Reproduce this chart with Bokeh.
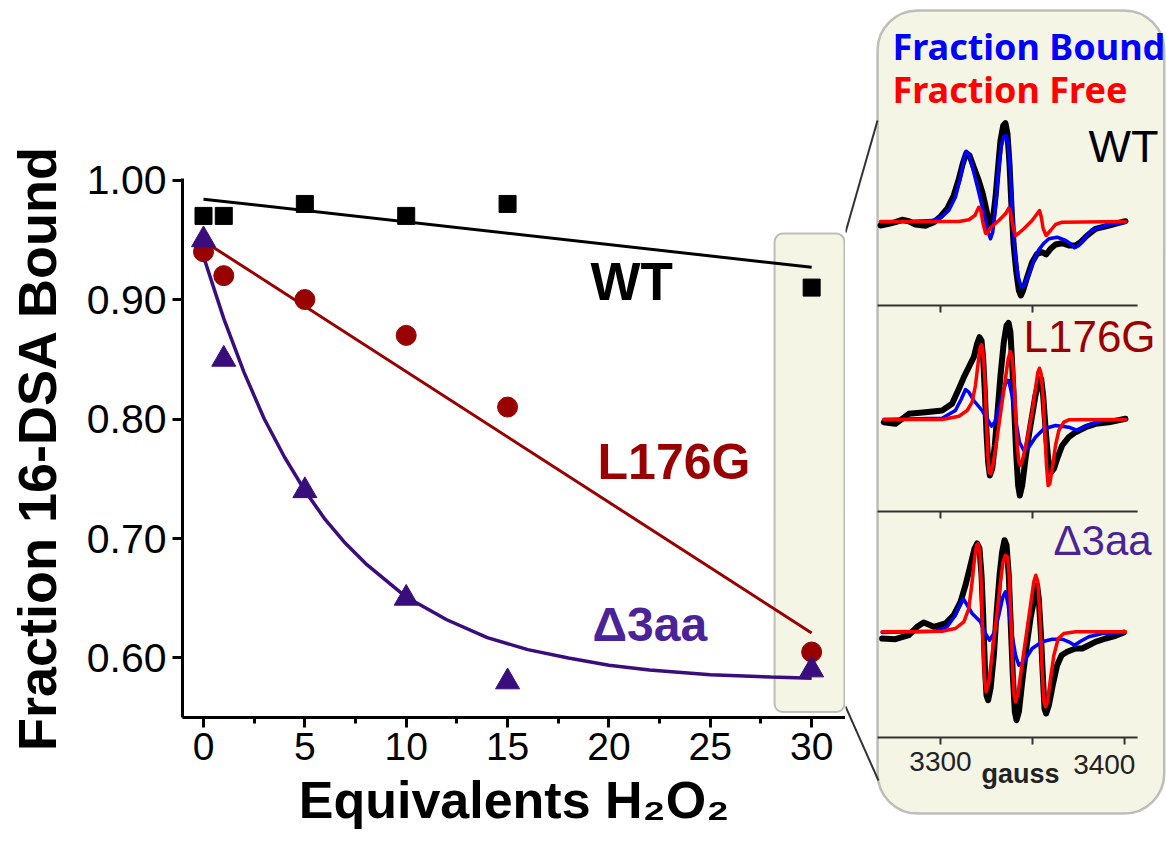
from bokeh.plotting import figure
from bokeh.models import Range1d, FixedTicker, NumeralTickFormatter, BoxAnnotation, Label
from bokeh.layouts import row
from bokeh.embed import file_html
from bokeh.resources import INLINE

# ---------------- main plot data ----------------
equiv = [0, 1, 5, 10, 15, 30]
wt_bound = [0.97, 0.97, 0.98, 0.97, 0.98, 0.91]
l176g_bound = [0.94, 0.92, 0.90, 0.87, 0.81, 0.605]
d3aa_bound = [0.95, 0.85, 0.74, 0.65, 0.58, 0.59]

wt_fit_x = [0, 30]
wt_fit_y = [0.984, 0.927]
l176g_fit_x = [0, 30]
l176g_fit_y = [0.949, 0.621]
d3aa_fit_x = [0, 1, 2, 3, 4, 5, 6, 7, 8, 10, 12, 14, 16, 18, 20, 22, 25, 28, 30]
d3aa_fit_y = [0.936, 0.884, 0.839, 0.800, 0.768, 0.740, 0.716, 0.696, 0.679, 0.651,
              0.632, 0.617, 0.607, 0.600, 0.594, 0.590, 0.586, 0.584, 0.583]

x_ticks = [0, 5, 10, 15, 20, 25, 30]
x_minor = [2.5, 7.5, 12.5, 17.5, 22.5, 27.5]
y_ticks = [0.6, 0.7, 0.8, 0.9, 1.0]

# ---------------- inset EPR spectra (gauss, intensity) ----------------
wt_black_g = [3267.4, 3271.9, 3275.5, 3279.2, 3282.8, 3286.4, 3291.8, 3296.4, 3300.0, 3303.6, 3307.2,
              3310.0, 3312.1, 3314.0, 3315.8, 3318.1, 3320.8, 3323.0, 3325.0, 3326.8, 3328.4, 3329.9,
              3331.3, 3332.6, 3334.1, 3335.3, 3336.4, 3337.5, 3338.6, 3339.7, 3341.1, 3342.6, 3343.7,
              3344.9, 3347.1, 3349.8, 3352.5, 3355.2, 3357.4, 3359.8, 3362.5, 3366.1, 3369.7, 3373.4,
              3376.1, 3379.7, 3384.2, 3391.5, 3400.5]
wt_black_i = [-4, -2.3, -0.7, 1.7, 0.3, -3, -4.3, -0.7, 5, 12.7, 26, 42.7, 57.7, 68.3, 66, 54.3, 41,
              27.7, 11, -4, 1, 24.3, 54.3, 81, 96, 98.3, 87.7, 57.7, 14.3, -22.3, -49, -69, -74, -69,
              -55.7, -40.7, -32.3, -30.7, -33, -27.3, -23, -21.7, -24, -24, -20.7, -14, -7.3, -4, 0.3]
wt_blue_g = [3267.4, 3282.8, 3295.5, 3300.9, 3304.5, 3308.1, 3310.9, 3312.7, 3314.0, 3315.4, 3317.6,
             3319.9, 3322.3, 3324.5, 3325.9, 3327.2, 3328.4, 3329.9, 3331.3, 3333.0, 3334.4, 3335.7,
             3336.8, 3337.9, 3338.9, 3340.4, 3342.2, 3344.0, 3345.5, 3348.0, 3350.7, 3353.4, 3356.2,
             3358.9, 3363.4, 3368.0, 3370.6, 3372.8, 3375.2, 3377.9, 3382.4, 3391.5, 3400.5]
wt_blue_i = [-0.7, 0, 1, 5, 11, 24.3, 44.3, 62.7, 70.3, 67.7, 52.7, 36, 17.7, 1, -10.7, -17.3, -10.7,
             14.3, 47.7, 74.3, 85, 86, 77.7, 51, 11, -29, -55.7, -65.7, -64, -52.3, -39, -28.3, -21.7,
             -17.3, -15.7, -19, -22.3, -26.3, -24, -17.3, -8.3, -3.3, -0.7]
wt_red_g = [3267.4, 3310.0, 3315.4, 3318.7, 3320.8, 3321.9, 3323.0, 3324.5, 3325.5, 3327.2, 3331.7,
            3335.3, 3337.1, 3338.0, 3339.3, 3340.8, 3342.2, 3345.3, 3349.8, 3352.5, 3353.8, 3354.7,
            3355.8, 3357.4, 3359.8, 3362.5, 3366.1, 3400.5]
wt_red_i = [0, 0, 1.7, 6, 14.3, 11, -0.7, -11.7, -11.7, -6.3, 1, 7.7, 13.3, 9.3, -4, -14, -12.3, -7.3,
            1, 7.7, 11, 5, -7.3, -14, -9, -3, -0.7, 0]

l176g_black_g = [3269.2, 3275.5, 3282.8, 3291.8, 3300.9, 3306.3, 3310.0, 3312.7, 3315.4, 3318.1, 3319.9,
                 3321.2, 3322.3, 3323.2, 3324.1, 3325.0, 3325.9, 3326.8, 3328.1, 3329.5, 3331.0, 3332.6,
                 3334.4, 3335.9, 3337.0, 3338.0, 3338.9, 3340.0, 3341.1, 3342.2, 3343.1, 3344.4, 3346.2,
                 3348.0, 3349.8, 3351.6, 3353.4, 3354.7, 3355.8, 3357.1, 3358.5, 3360.0, 3361.6, 3363.4,
                 3366.1, 3369.7, 3373.4, 3378.8, 3384.2, 3391.5, 3400.5]
l176g_black_i = [-2.7, -4.3, 5.7, 7.3, 9, 15.7, 30.7, 42.3, 52.3, 62.3, 75.7, 82.3, 79, 60.7, 27.3,
                 -12.7, -42.7, -56, -49.3, -26, 7.3, 44, 77.3, 94, 96.7, 87.3, 57.3, 14, -32.7, -66,
                 -76, -66, -39.3, -16, 4, 24, 39, 40.7, 24, -9.3, -39.3, -52.7, -49.3, -39.3, -26,
                 -17.7, -12.7, -7.7, -4.3, -2.7, 0.7]
l176g_blue_g = [3269.2, 3300.9, 3308.1, 3311.4, 3313.6, 3315.4, 3318.1, 3322.6, 3325.4, 3327.7, 3329.5,
                3331.7, 3333.9, 3335.9, 3337.1, 3338.9, 3340.8, 3342.9, 3345.3, 3348.0, 3351.6, 3356.2,
                3362.5, 3369.7, 3374.3, 3378.8, 3387.9, 3400.5]
l176g_blue_i = [0, 1.3, 9, 20.7, 30, 27.3, 19, 9, 0.7, -6.7, -2.7, 10.7, 27.3, 39, 39, 24, 0.7, -22.7,
                -31, -27.7, -17.7, -9.3, -6, -7.7, -11, -6.7, -1, 0]
l176g_red_g = [3269.2, 3300.9, 3310.0, 3314.5, 3317.2, 3319.0, 3320.5, 3321.6, 3322.3, 3323.0, 3324.1,
               3325.0, 3325.7, 3326.4, 3327.3, 3328.4, 3329.9, 3331.7, 3333.5, 3335.3, 3336.8, 3338.0,
               3338.9, 3339.9, 3340.8, 3341.7, 3342.6, 3343.5, 3344.7, 3347.1, 3349.8, 3351.6, 3352.9,
               3353.8, 3354.7, 3355.8, 3356.7, 3357.6, 3358.5, 3359.4, 3360.7, 3362.5, 3364.3, 3367.0,
               3369.7, 3400.5]
l176g_red_i = [0, 0, 3.3, 9, 17.3, 34, 57.3, 72.3, 74.7, 69, 40.7, -2.7, -36, -52.7, -54.3, -46, -29.3,
               -6, 17.3, 40.7, 60.7, 68, 62.3, 40.7, 7.3, -26, -42.7, -46, -39.3, -19.3, 7.3, 30.7,
               47.3, 51.3, 45.7, 20.7, -12.7, -46, -66, -64.3, -49.3, -26, -11, -2.7, -0.3, 0]

d3aa_black_g = [3268.3, 3275.5, 3282.8, 3287.3, 3290.9, 3296.4, 3302.7, 3307.2, 3310.9, 3313.6, 3316.3,
                3318.5, 3319.9, 3321.2, 3322.3, 3323.2, 3324.1, 3325.0, 3325.9, 3327.2, 3329.0, 3330.4,
                3332.1, 3333.5, 3334.8, 3335.9, 3337.1, 3338.2, 3339.3, 3340.4, 3341.3, 3342.6, 3344.4,
                3346.6, 3348.9, 3351.3, 3352.5, 3353.4, 3354.5, 3355.6, 3356.5, 3357.4, 3358.9, 3361.0,
                3363.4, 3365.8, 3368.8, 3373.4, 3377.0, 3380.6, 3384.2, 3389.7, 3395.1, 3399.6]
d3aa_black_i = [-6, -6.7, -2.7, 5.7, 10, 5.7, 9, 17.3, 30.7, 47.3, 67.3, 84, 89, 84, 57.3, 17.3, -32.7,
                -62.7, -67.7, -56, -22.7, 17.3, 57.3, 80.7, 92.3, 87.3, 57.3, 7.3, -42.7, -79.3, -87.7,
                -79.3, -49.3, -16, 14, 37.3, 47.3, 34, 0.7, -42.7, -76, -81, -72.7, -52.7, -32.7, -22.7,
                -19.3, -16, -16, -12.7, -9.3, -6, -3.3, 0]
d3aa_blue_g = [3268.3, 3297.3, 3303.6, 3308.1, 3310.9, 3312.3, 3314.0, 3317.2, 3321.7, 3324.4, 3326.6,
               3329.0, 3331.7, 3333.9, 3335.3, 3336.8, 3338.6, 3340.8, 3342.6, 3345.3, 3349.8, 3355.2,
               3360.7, 3366.1, 3369.7, 3372.8, 3376.1, 3380.6, 3387.9, 3399.6]
d3aa_blue_i = [0, 1.3, 5.7, 17.3, 29, 34, 29, 19, 10.7, -1, -7.7, -1, 17.3, 35.7, 40.7, 27.3, 0.7,
               -22.7, -32.7, -29.3, -16, -9.3, -6.7, -6.7, -9.3, -12.7, -8.7, -4.3, -1, 0]
d3aa_red_g = [3268.3, 3300.9, 3308.1, 3312.7, 3315.4, 3317.2, 3318.5, 3319.6, 3320.5, 3321.4, 3322.1,
              3323.0, 3323.9, 3324.8, 3326.3, 3328.4, 3330.8, 3332.6, 3334.0, 3335.3, 3336.4, 3337.3,
              3338.2, 3339.1, 3340.0, 3340.8, 3342.0, 3344.0, 3346.6, 3348.9, 3350.7, 3351.8, 3352.9,
              3354.0, 3355.1, 3356.2, 3357.1, 3358.1, 3359.8, 3361.6, 3364.0, 3367.0, 3373.4, 3400.5]
d3aa_red_i = [0.7, 1.3, 4, 10.7, 24, 50.7, 74, 87.3, 89, 80.7, 50.7, -6, -46, -59.3, -49.3, -16, 20.7,
              50.7, 70.7, 77.3, 75.7, 57.3, 17.3, -32.7, -62.7, -69.3, -62.7, -36, -2.7, 27.3, 50.7,
              57.3, 50.7, 17.3, -32.7, -69.3, -74.3, -69.3, -46, -22.7, -6, -1, 0.7, 0.7]

gauss_ticks = [3300, 3350, 3400]
gauss_labels = ["3300", "3400"]

# ---------------- colours ----------------
C_WT = "#000000"
C_L = "#990000"
C_D = "#3a0d7c"
C_DT = "#4a2398"
BEIGE = "#f5f5e6"
EDGE = "#333333"
FONT = "Liberation Sans"

# ---------------- main figure ----------------
p = figure(width=845, height=844, x_range=Range1d(-1.036, 31.67), y_range=Range1d(0.5502, 1.0013),
           min_border_left=182, min_border_right=0, min_border_top=178, min_border_bottom=127,
           toolbar_location=None, output_backend="svg", frame_align=False)
p.outline_line_color = None
p.xgrid.visible = False
p.ygrid.visible = False
p.background_fill_color = "white"
p.border_fill_color = "white"

p.add_layout(BoxAnnotation(left=28.17, right=31.62, top=0.9552, bottom=0.5548, fill_color=BEIGE,
                           fill_alpha=1, line_color=EDGE, line_width=2, border_radius=8, level="underlay"))

p.line(wt_fit_x, wt_fit_y, color=C_WT, line_width=3)
p.line(l176g_fit_x, l176g_fit_y, color=C_L, line_width=3)
p.line(d3aa_fit_x, d3aa_fit_y, color=C_D, line_width=3.5)
p.scatter(equiv, wt_bound, marker="square", size=17, color=C_WT)
p.scatter(equiv, l176g_bound, marker="circle", size=20, color=C_L)
p.scatter(equiv, d3aa_bound, marker="triangle", size=24, color=C_D)

p.xaxis.ticker = FixedTicker(ticks=x_ticks, minor_ticks=x_minor)
p.yaxis.ticker = FixedTicker(ticks=y_ticks)
p.yaxis.formatter = NumeralTickFormatter(format="0.00")
p.xaxis.axis_label = "Equivalents H\u2082O\u2082"
p.yaxis.axis_label = "Fraction 16-DSA Bound"
for ax in (p.xaxis, p.yaxis):
    ax.axis_line_width = 3
    ax.axis_line_color = "black"
    ax.major_tick_line_width = 3
    ax.major_tick_in = 0
    ax.major_tick_out = 10
    ax.minor_tick_in = 0
    ax.minor_tick_out = 6
    ax.minor_tick_line_width = 3
    ax.major_label_text_font = FONT
    ax.major_label_text_color = "black"
    ax.axis_label_text_font = FONT
    ax.axis_label_text_font_style = "bold"
    ax.axis_label_text_color = "black"
p.yaxis.minor_tick_line_color = None
p.xaxis.major_label_text_font_size = "39px"
p.yaxis.major_label_text_font_size = "41px"
p.xaxis.major_label_standoff = 5
p.yaxis.major_label_standoff = 6
p.xaxis.axis_label_text_font_size = "52px"
p.yaxis.axis_label_text_font_size = "54px"
p.xaxis.axis_label_standoff = 8
p.yaxis.axis_label_standoff = 17

p.add_layout(Label(x=19.09, y=0.890, text="WT", text_font=FONT, text_font_style="bold",
                   text_font_size="53px", text_color=C_WT))
p.add_layout(Label(x=19.44, y=0.741, text="L176G", text_font=FONT, text_font_style="bold",
                   text_font_size="50px", text_color=C_L))
p.add_layout(Label(x=19.19, y=0.606, text="\u03943aa", text_font=FONT, text_font_style="bold",
                   text_font_size="48px", text_color=C_DT))

# ---------------- inset figure ----------------
q = figure(width=321, height=844, x_range=Range1d(3248.4, 3422.8), y_range=Range1d(0, 844),
           min_border=0, x_axis_type=None, y_axis_type=None, frame_align=False,
           toolbar_location=None, output_backend="svg")
q.outline_line_color = None
q.xgrid.visible = False
q.ygrid.visible = False
q.background_fill_color = "white"
q.border_fill_color = "white"
q.extra_y_ranges = {"wt": Range1d(-623, 221), "l176g": Range1d(-425, 419), "d3aa": Range1d(-212, 632)}

# zoom connector lines
q.segment(x0=[3248.4, 3248.4], y0=[612, 138], x1=[3265.8, 3266.3], y1=[724, 64],
          line_color=EDGE, line_width=2)

q.add_layout(BoxAnnotation(left=3265.8, right=3421.6, top=834, bottom=31, fill_color=BEIGE,
                           fill_alpha=1, line_color=EDGE, line_width=2.5, border_radius=40,
                           level="underlay"))

# panel axes
sep_y = [539, 333, 107]
q.segment(x0=[3265.8] * 3, y0=sep_y, x1=[3407.1] * 3, y1=sep_y, line_color=EDGE, line_width=2)
tick_x = [gauss_ticks[0], gauss_ticks[1], gauss_ticks[0], gauss_ticks[1]] + gauss_ticks
tick_y = [539, 539, 333, 333, 107, 107, 107]
q.segment(x0=tick_x, y0=tick_y, x1=tick_x, y1=[t - 7 for t in tick_y], line_color=EDGE, line_width=2)

for name, (bg, bi), (ug, ui), (rg, ri) in [
    ("wt", (wt_black_g, wt_black_i), (wt_blue_g, wt_blue_i), (wt_red_g, wt_red_i)),
    ("l176g", (l176g_black_g, l176g_black_i), (l176g_blue_g, l176g_blue_i), (l176g_red_g, l176g_red_i)),
    ("d3aa", (d3aa_black_g, d3aa_black_i), (d3aa_blue_g, d3aa_blue_i), (d3aa_red_g, d3aa_red_i)),
]:
    q.line(bg, bi, y_range_name=name, color="black", line_width=6, line_join="round", line_cap="round")
    q.line(ug, ui, y_range_name=name, color="#0000ff", line_width=3.5, line_join="round", line_cap="round")
    q.line(rg, ri, y_range_name=name, color="#ff0000", line_width=3.5, line_join="round", line_cap="round")

q.add_layout(Label(x=3273.9, y=774, text="Fraction Bound", text_font="Noto Sans", text_font_style="bold",
                   text_font_size="36px", text_color="#0000ff"))
q.add_layout(Label(x=3273.9, y=731, text="Fraction Free", text_font="Noto Sans", text_font_style="bold",
                   text_font_size="36px", text_color="#ff0000"))
q.add_layout(Label(x=3380.4, y=673, text="WT", text_font=FONT, text_font_size="45px", text_color="black"))
q.add_layout(Label(x=3345.1, y=484, text="L176G", text_font=FONT, text_font_size="44px", text_color=C_L))
q.add_layout(Label(x=3361.4, y=281, text="\u03943aa", text_font=FONT, text_font_size="42px", text_color=C_DT))
q.add_layout(Label(x=gauss_ticks[0], y=74, text=gauss_labels[0], text_font=FONT, text_font_size="28px",
                   text_align="center", text_color="#222222"))
q.add_layout(Label(x=3389.0, y=71, text=gauss_labels[1], text_font=FONT, text_font_size="28px",
                   text_align="center", text_color="#222222"))
q.add_layout(Label(x=3343.5, y=56, text="gauss", text_font=FONT, text_font_style="bold",
                   text_font_size="27px", text_align="center", text_color="#222222"))

layout = row(p, q, spacing=0)
open("out.html", "w").write(file_html(layout, INLINE))
